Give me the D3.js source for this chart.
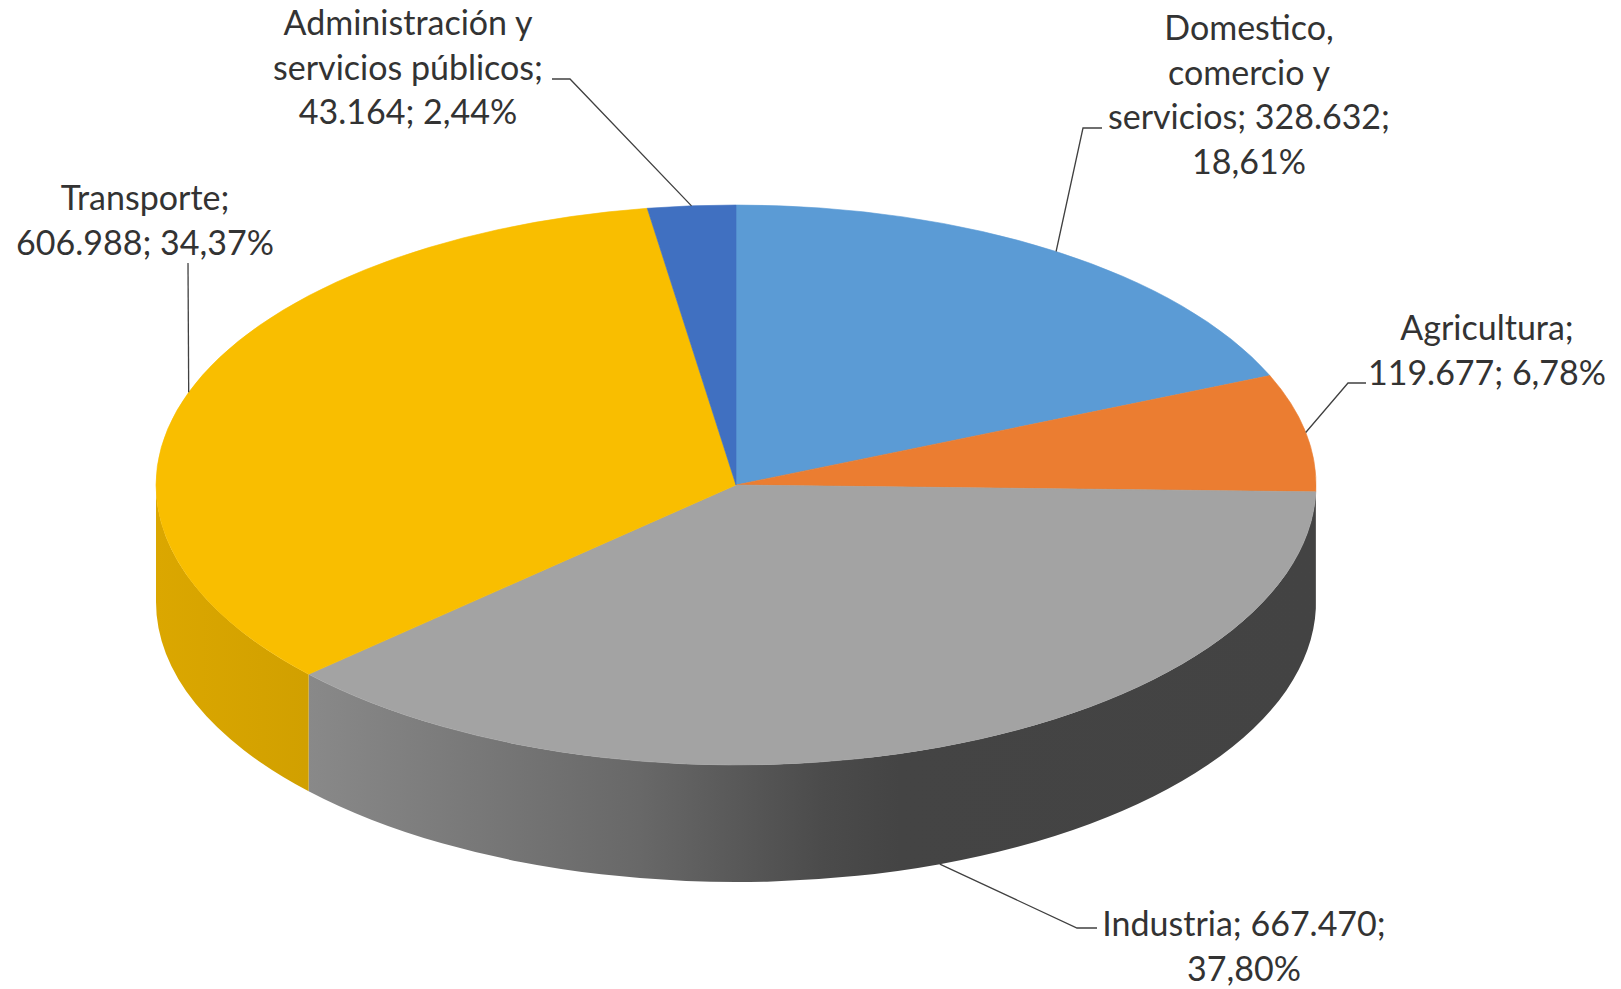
<!DOCTYPE html>
<html>
<head>
<meta charset="utf-8">
<script src="https://cdn.jsdelivr.net/npm/d3@7"></script>
<style>
  body { margin: 0; background: #fff; }
  svg { display: block; }
  .lbl { font-family: Lato, "Open Sans", sans-serif; font-size: 34px; fill: #333; }
</style>
</head>
<body>
<div id="chart"></div>
<script>
// data
const categories = ["Domestico, comercio y servicios", "Agricultura", "Industria", "Transporte", "Administración y servicios públicos"];
const values = [328632, 119677, 667470, 606988, 43164];
const colors = ["#5B9BD5", "#EB7D31", "#A3A3A3", "#F9BE00", "#4070C1"];
// how many words go on each label line
const wordsPerLine = [[1, 2, 2, 1], [1, 2], [2, 1], [1, 2], [2, 2, 2]];

// layout
const W = 1621, H = 989;
const cx = 736, cy = 485, rx = 580, ry = 280, depth = 117;
const lineH = 44.5;
const labelLayout = [
  {x: 1249, y: 40,  leader: [[1102, 128], [1083, 128]], at: "top"},
  {x: 1487, y: 340, leader: [[1366, 383], [1348, 383]], at: "top"},
  {x: 1244, y: 936, leader: [[1097, 928], [1077, 928]], at: "bottom"},
  {x: 145,  y: 210, leader: [[188, 263]], at: "top"},
  {x: 408,  y: 35,  leader: [[552, 79], [570, 79]], at: "top"}
];
// side shading (fraction across pie width -> brightness)
const shade = [[0, 0.88], [0.131, 0.84], [0.417, 0.64], [0.575, 0.46], [0.641, 0.42], [1, 0.41]];

const es = d3.formatLocale({decimal: ",", thousands: ".", grouping: [3], currency: ["", "€"]});
const fmtNum = es.format(",d"), fmtPct = es.format(".2%");
const total = d3.sum(values);

const svg = d3.select("#chart").append("svg")
  .attr("width", W).attr("height", H);
const defs = svg.append("defs");

const pie = d3.pie().sort(null).value(d => d.value);
const arcs = pie(categories.map((c, i) => ({name: c, value: values[i], color: colors[i], i})));

const pt = (a, dy = 0) => [cx + rx * Math.sin(a), cy - ry * Math.cos(a) + dy];

function topPath(d) {
  const p0 = pt(d.startAngle), p1 = pt(d.endAngle);
  const large = d.endAngle - d.startAngle > Math.PI ? 1 : 0;
  return `M${cx},${cy}L${p0}A${rx},${ry} 0 ${large} 1 ${p1}Z`;
}

function sidePath(a0, a1) {
  const t0 = pt(a0), t1 = pt(a1), b1 = pt(a1, depth), b0 = pt(a0, depth);
  return `M${t0}A${rx},${ry} 0 0 1 ${t1}L${b1}A${rx},${ry} 0 0 0 ${b0}Z`;
}

// gradients for the side walls
arcs.forEach(d => {
  const g = defs.append("linearGradient")
    .attr("id", "side" + d.data.i)
    .attr("gradientUnits", "userSpaceOnUse")
    .attr("x1", cx - rx).attr("x2", cx + rx).attr("y1", 0).attr("y2", 0);
  const base = d3.rgb(d.data.color);
  shade.forEach(([t, k]) => {
    g.append("stop").attr("offset", t)
      .attr("stop-color", d3.rgb(base.r * k, base.g * k, base.b * k));
  });
});

// visible side walls: front half only
const sides = svg.append("g");
arcs.forEach(d => {
  const a0 = Math.max(d.startAngle, Math.PI / 2);
  const a1 = Math.min(d.endAngle, Math.PI * 1.5);
  if (a1 <= a0) return;
  sides.append("path")
    .attr("d", sidePath(a0, a1))
    .attr("fill", `url(#side${d.data.i})`);
});

// top faces
svg.append("g").selectAll("path")
  .data(arcs)
  .join("path")
  .attr("d", topPath)
  .attr("fill", d => d.data.color)
  .attr("stroke", d => d.data.color)
  .attr("stroke-width", 0.6)
  .attr("stroke-linejoin", "round");

// leader lines
svg.append("g").selectAll("path")
  .data(arcs)
  .join("path")
  .attr("d", d => {
    const L = labelLayout[d.index];
    const mid = (d.startAngle + d.endAngle) / 2;
    const anchor = pt(mid, L.at === "bottom" ? depth : 0);
    return d3.line()([...L.leader, anchor]);
  })
  .attr("fill", "none")
  .attr("stroke", "#404040")
  .attr("stroke-width", 1.3);

// labels
const labels = svg.append("g");
arcs.forEach(d => {
  const L = labelLayout[d.index];
  const words = `${d.data.name}; ${fmtNum(d.data.value)}; ${fmtPct(d.data.value / total)}`.split(" ");
  const lines = [];
  let k = 0;
  wordsPerLine[d.index].forEach(n => { lines.push(words.slice(k, k + n).join(" ")); k += n; });
  const t = labels.append("text").attr("class", "lbl").attr("text-anchor", "middle");
  lines.forEach((s, j) => {
    t.append("tspan").attr("x", L.x).attr("y", L.y + j * lineH).text(s);
  });
});
</script>
</body>
</html>
